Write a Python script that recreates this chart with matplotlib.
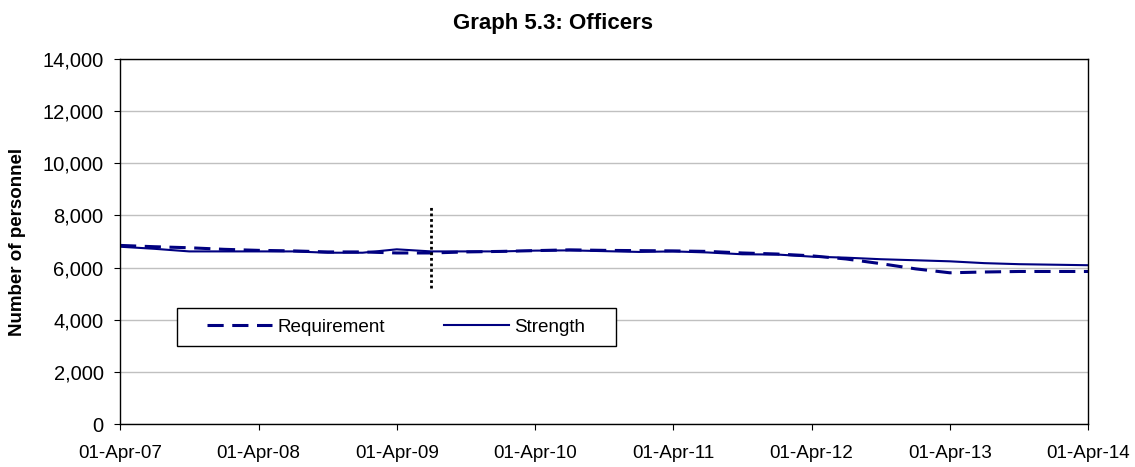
import matplotlib
matplotlib.use('Agg')
import matplotlib.pyplot as plt
import numpy as np
import pandas as pd
from matplotlib.ticker import FuncFormatter

plt.rcParams['font.family'] = ['Liberation Sans', 'DejaVu Sans']

# quarterly points, Apr-07 .. Apr-14
dates = pd.date_range('2007-04-01', '2014-04-01', freq='QS-APR')
requirement = [6850, 6800, 6760, 6700, 6660, 6640, 6600, 6600, 6560, 6560,
               6600, 6620, 6650, 6680, 6660, 6650, 6640, 6620, 6560, 6520,
               6450, 6330, 6150, 5950, 5800, 5830, 5850, 5850, 5850]
strength = [6800, 6720, 6620, 6620, 6620, 6620, 6570, 6570, 6700, 6620,
            6620, 6620, 6650, 6660, 6630, 6600, 6620, 6580, 6510, 6500,
            6420, 6380, 6320, 6280, 6240, 6170, 6130, 6110, 6090]
marker_date = pd.Timestamp('2009-07-01')
marker_range = [5200, 8400]
tick_dates = pd.date_range('2007-04-01', '2014-04-01', freq='12MS')
tick_labels = [d.strftime('%d-%b-%y') for d in tick_dates]

fig = plt.figure(figsize=(11.35, 4.67), dpi=100)
ax = fig.add_axes([120 / 1135, 43 / 467, 968 / 1135, 365 / 467])

navy = '#000080'
ax.plot(dates, requirement, color=navy, lw=2.2, ls=(0, (5.3, 2.8)), label='Requirement')
ax.plot(dates, strength, color=navy, lw=1.5, label='Strength')
ax.plot([marker_date, marker_date], marker_range, color='black', lw=2, ls=(0, (1, 1)))

ax.set_xlim(tick_dates[0], tick_dates[-1])
ax.set_ylim(0, 14000)
ax.set_yticks(np.arange(0, 14001, 2000))
ax.yaxis.set_major_formatter(FuncFormatter(lambda v, p: f'{int(v):,}'))
ax.set_xticks(tick_dates)
ax.set_xticklabels(tick_labels)
ax.tick_params(axis='both', direction='out', length=4.3, color='black')
ax.tick_params(axis='y', labelsize=14.5, pad=7.5)
ax.tick_params(axis='x', labelsize=13.6, pad=10.5)
ax.grid(axis='y', color='#c0c0c0', lw=1)
ax.set_axisbelow(True)
for s in ax.spines.values():
    s.set_color('black')
    s.set_linewidth(1)

ax.set_ylabel('Number of personnel', fontsize=13.5, fontweight='bold', labelpad=12)
fig.text(553 / 1135, 1 - 29 / 467, 'Graph 5.3: Officers', fontsize=16,
         fontweight='bold', ha='center', va='baseline')

# legend box drawn separately so its padding matches the original
box = plt.Rectangle((0.0586, 0.2137), 0.4538, 0.1033, transform=ax.transAxes,
                    facecolor='white', edgecolor='black', lw=1, zorder=4)
ax.add_patch(box)
leg = ax.legend(loc='center left', bbox_to_anchor=(0.0896, 0.265), ncol=2,
                frameon=False, fontsize=13.6, handlelength=3.45,
                handletextpad=0.3, columnspacing=3.1, borderpad=0,
                borderaxespad=0)
leg.set_zorder(5)

fig.savefig('out.png', dpi=100)
